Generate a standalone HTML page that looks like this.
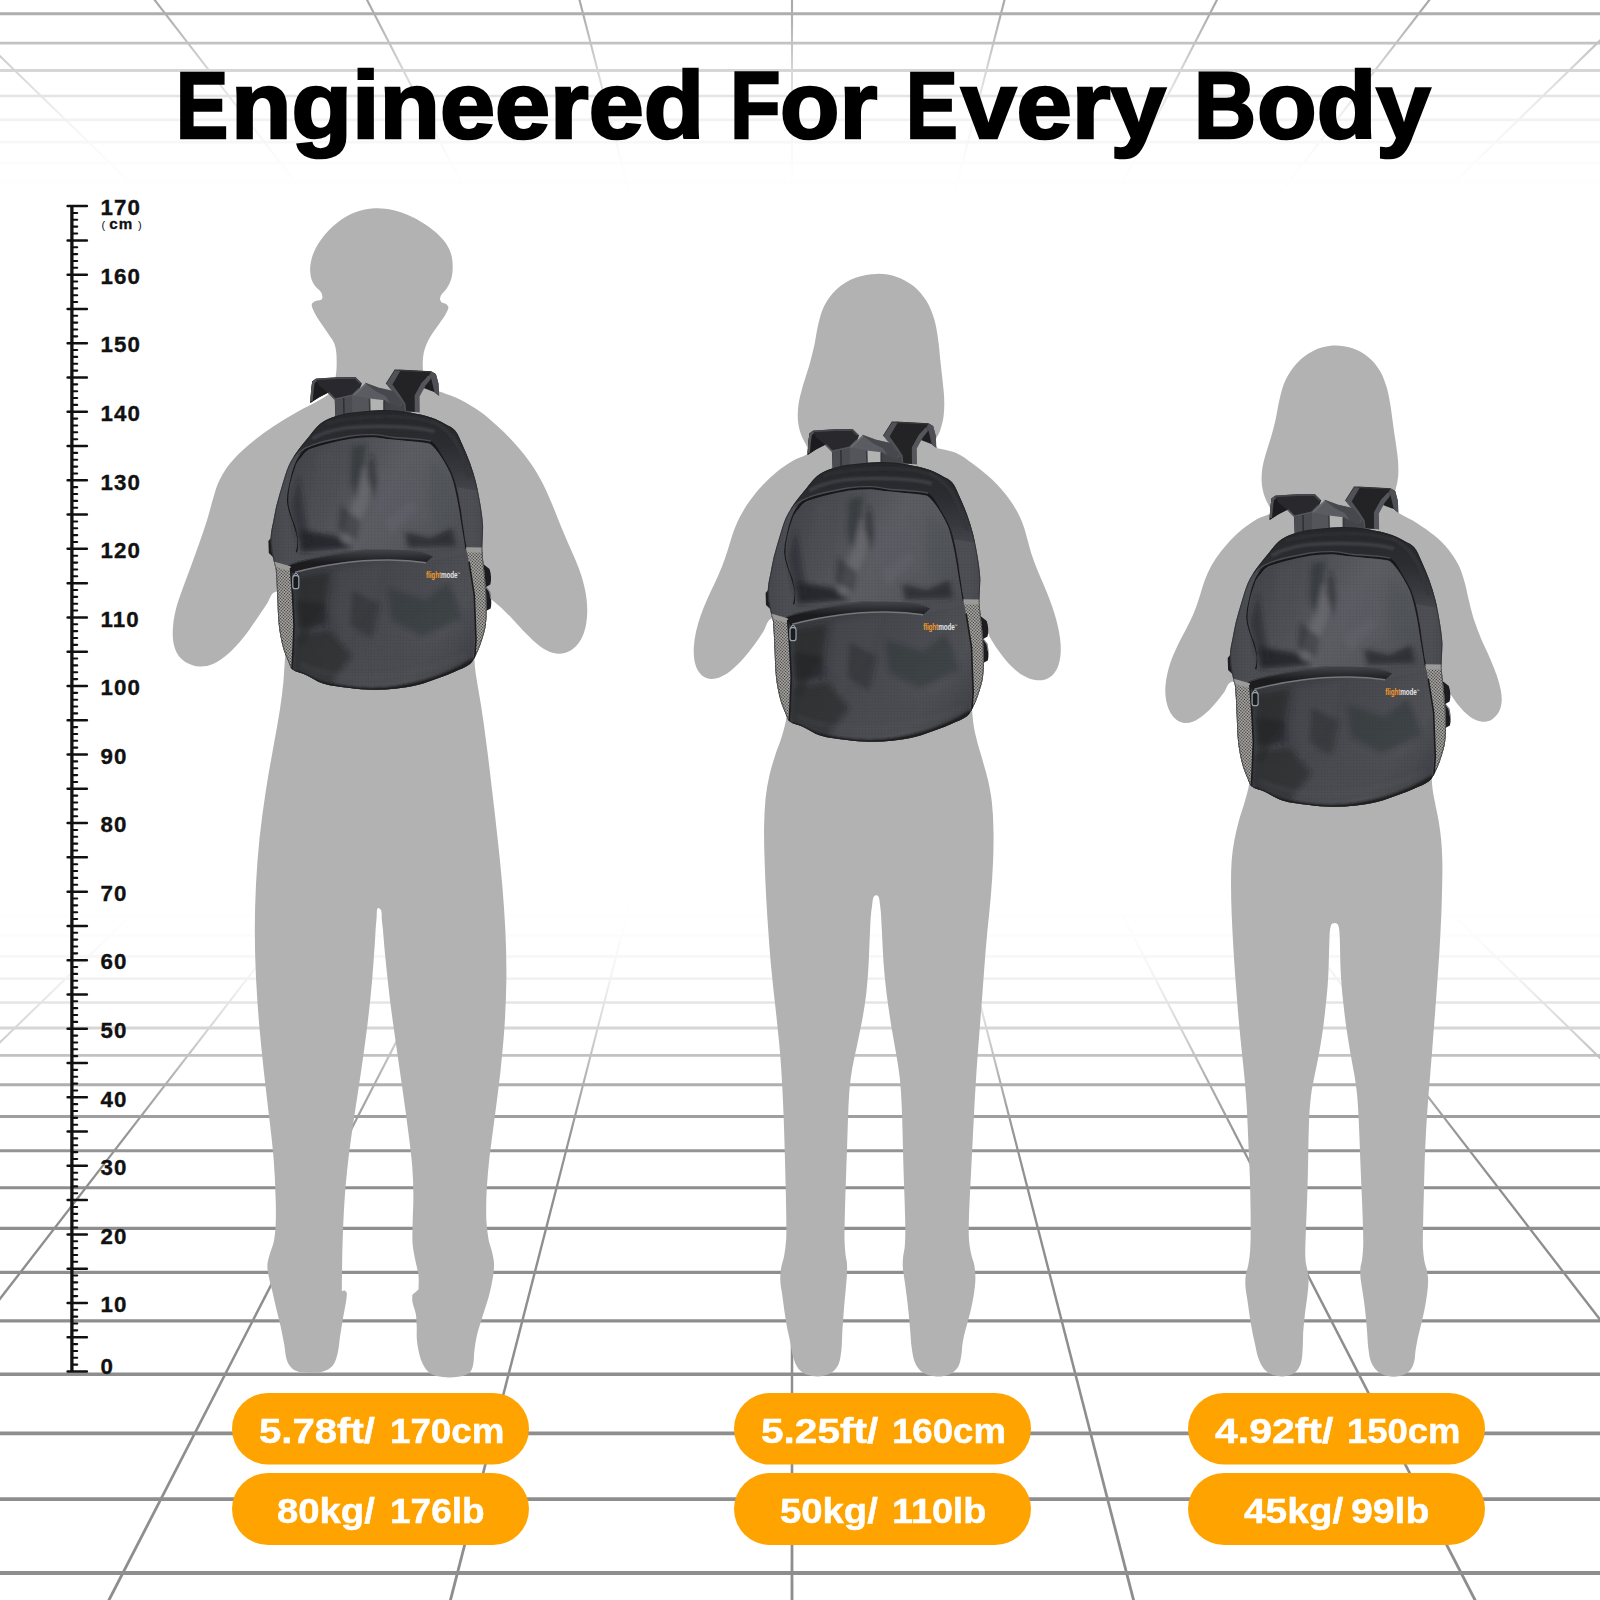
<!DOCTYPE html>
<html lang="en">
<head>
<meta charset="utf-8">
<title>Engineered For Every Body</title>
<style>
html,body{margin:0;padding:0;background:#fff;}
body{width:1600px;height:1600px;position:relative;overflow:hidden;font-family:"Liberation Sans",Arial,sans-serif;}
#art{position:absolute;left:0;top:0;width:1600px;height:1600px;display:block;}
h1,.pt{position:absolute;left:0;top:0;margin:0;padding:0;width:0;height:0;font-family:"Liberation Sans",Arial,sans-serif;font-weight:700;white-space:pre;}
h1 span,.pt span{position:absolute;display:block;line-height:1;transform-origin:0 0;white-space:pre;}
h1{font-size:94.4px;color:#000;-webkit-text-stroke:2.6px #000;}
.pt{font-size:35.6px;color:#fff;-webkit-text-stroke:0.5px #fff;}
</style>
</head>
<body>
<svg id="art" width="1600" height="1600" viewBox="0 0 1600 1600">
<defs>
<linearGradient id="fadeFloor" gradientUnits="userSpaceOnUse" x1="0" y1="900" x2="0" y2="1190">
<stop offset="0" stop-color="#fff" stop-opacity="1"/>
<stop offset="0.12" stop-color="#fff" stop-opacity="0.975"/>
<stop offset="0.27" stop-color="#fff" stop-opacity="0.89"/>
<stop offset="0.44" stop-color="#fff" stop-opacity="0.64"/>
<stop offset="0.62" stop-color="#fff" stop-opacity="0.31"/>
<stop offset="0.80" stop-color="#fff" stop-opacity="0.08"/>
<stop offset="1" stop-color="#fff" stop-opacity="0"/>
</linearGradient>
<g id="floor" stroke="#8e8e8e" fill="none">
<line x1="-10" x2="1610" y1="897.2" y2="897.2" stroke-width="2.51"/>
<line x1="-10" x2="1610" y1="915.8" y2="915.8" stroke-width="2.55"/>
<line x1="-10" x2="1610" y1="935.5" y2="935.5" stroke-width="2.59"/>
<line x1="-10" x2="1610" y1="956.4" y2="956.4" stroke-width="2.64"/>
<line x1="-10" x2="1610" y1="978.7" y2="978.7" stroke-width="2.68"/>
<line x1="-10" x2="1610" y1="1002.5" y2="1002.5" stroke-width="2.73"/>
<line x1="-10" x2="1610" y1="1028" y2="1028" stroke-width="2.79"/>
<line x1="-10" x2="1610" y1="1055.4" y2="1055.4" stroke-width="2.84"/>
<line x1="-10" x2="1610" y1="1084.7" y2="1084.7" stroke-width="2.90"/>
<line x1="-10" x2="1610" y1="1116.4" y2="1116.4" stroke-width="2.97"/>
<line x1="-10" x2="1610" y1="1150.7" y2="1150.7" stroke-width="3.04"/>
<line x1="-10" x2="1610" y1="1187.8" y2="1187.8" stroke-width="3.12"/>
<line x1="-10" x2="1610" y1="1228.3" y2="1228.3" stroke-width="3.21"/>
<line x1="-10" x2="1610" y1="1272.4" y2="1272.4" stroke-width="3.30"/>
<line x1="-10" x2="1610" y1="1320.9" y2="1320.9" stroke-width="3.40"/>
<line x1="-10" x2="1610" y1="1374.3" y2="1374.3" stroke-width="3.51"/>
<line x1="-10" x2="1610" y1="1433.4" y2="1433.4" stroke-width="3.64"/>
<line x1="-10" x2="1610" y1="1499.2" y2="1499.2" stroke-width="3.78"/>
<line x1="-10" x2="1610" y1="1573" y2="1573" stroke-width="3.93"/>
<polygon points="9.4,880 12.5,880 -1041.7,1700 -1046.6,1700" stroke="none" fill="#8e8e8e"/>
<polygon points="165.8,880 168.5,880 -674.8,1700 -679.1,1700" stroke="none" fill="#8e8e8e"/>
<polygon points="322.2,880 324.5,880 -307.8,1700 -311.6,1700" stroke="none" fill="#8e8e8e"/>
<polygon points="478.5,880 480.6,880 59.2,1700 55.8,1700" stroke="none" fill="#8e8e8e"/>
<polygon points="634.8,880 636.7,880 426.3,1700 423.2,1700" stroke="none" fill="#8e8e8e"/>
<polygon points="791.1,880 792.9,880 793.5,1700 790.5,1700" stroke="none" fill="#8e8e8e"/>
<polygon points="947.3,880 949.2,880 1160.8,1700 1157.7,1700" stroke="none" fill="#8e8e8e"/>
<polygon points="1103.4,880 1105.5,880 1528.2,1700 1524.8,1700" stroke="none" fill="#8e8e8e"/>
<polygon points="1259.5,880 1261.8,880 1895.6,1700 1891.8,1700" stroke="none" fill="#8e8e8e"/>
<polygon points="1415.5,880 1418.2,880 2263.1,1700 2258.8,1700" stroke="none" fill="#8e8e8e"/>
<polygon points="1571.5,880 1574.6,880 2630.6,1700 2625.7,1700" stroke="none" fill="#8e8e8e"/>
<rect x="-20" y="860" width="1640" height="340" fill="url(#fadeFloor)" stroke="none"/>
</g>

<filter id="bl2" x="-30%" y="-30%" width="160%" height="160%"><feGaussianBlur stdDeviation="2.8"/></filter>
<filter id="bl4" x="-30%" y="-30%" width="160%" height="160%"><feGaussianBlur stdDeviation="4"/></filter>
<filter id="bl1" x="-20%" y="-20%" width="140%" height="140%"><feGaussianBlur stdDeviation="0.9"/></filter>
<clipPath id="bpClip"><path d="M320.0,424.0C323.5,421.1 327.8,419.3 332.0,417.6C335.9,416.0 339.9,414.8 344.0,414.0C349.9,412.8 356.0,412.2 362.0,411.6C368.0,411.0 374.0,410.4 380.0,410.2C385.3,410.0 390.7,410.2 396.0,410.6C400.7,411.0 405.4,411.7 410.0,412.6C417.6,414.1 425.2,415.6 432.5,418.0C436.9,419.4 441.0,421.8 445.0,424.0C448.5,425.9 452.5,427.4 455.0,430.5C458.5,434.7 460.2,440.1 462.5,445.0C465.2,450.9 467.8,456.9 470.0,463.0C472.3,469.4 474.4,475.9 476.0,482.5C477.9,489.9 479.3,497.5 480.5,505.0C481.6,511.6 482.6,518.3 483.0,525.0C483.3,530.0 482.7,535.0 482.6,540.0C482.5,543.3 482.2,546.7 482.3,550.0C482.5,555.0 483.1,560.0 483.6,565.0C484.1,570.0 484.8,575.0 485.2,580.0C485.8,587.5 486.4,595.0 486.5,602.5C486.6,610.0 486.8,617.6 485.8,625.0C485.0,631.2 482.9,637.1 481.0,643.0C479.7,647.1 478.0,651.2 476.0,655.0C474.3,658.2 472.8,661.8 470.0,664.0C465.6,667.5 460.1,669.2 455.0,671.5C450.1,673.7 445.1,675.7 440.0,677.5C432.6,680.2 425.2,683.1 417.5,685.0C410.1,686.8 402.6,687.9 395.0,688.8C387.5,689.5 380.0,689.9 372.5,689.8C365.0,689.7 357.5,688.9 350.0,688.0C340.9,686.8 331.7,686.1 323.0,683.5C316.6,681.6 311.1,677.3 305.0,674.5C300.9,672.6 296.1,672.2 292.5,669.5C290.2,667.8 289.6,664.6 288.5,662.0C286.5,657.3 284.3,652.5 283.0,647.5C281.1,640.1 279.6,632.6 278.8,625.0C277.7,615.0 277.8,605.0 277.2,595.0C276.8,586.5 276.6,578.0 275.8,569.5C275.6,567.4 274.7,565.5 274.2,563.5C273.2,558.3 271.8,553.2 271.2,548.0C270.7,543.7 270.4,539.3 270.8,535.0C271.2,529.9 272.6,525.0 273.5,520.0C274.5,515.0 275.3,509.9 276.5,505.0C278.3,497.9 280.4,491.0 282.5,484.0C284.4,478.0 285.9,471.8 288.5,466.0C290.9,460.7 294.2,455.8 297.5,451.0C301.2,445.8 305.4,440.9 309.5,436.0C312.9,431.9 315.9,427.4 320.0,424.0Z"/></clipPath>
<linearGradient id="bpBase" x1="0" y1="0" x2="1" y2="0">
<stop offset="0" stop-color="#3e4045"/><stop offset="0.1" stop-color="#4e5055"/>
<stop offset="0.5" stop-color="#484a4f"/><stop offset="0.9" stop-color="#505257"/>
<stop offset="1" stop-color="#3e4045"/>
</linearGradient>
<linearGradient id="zipG" gradientUnits="userSpaceOnUse" x1="0" y1="549" x2="0" y2="572">
<stop offset="0" stop-color="#45474c"/><stop offset="0.35" stop-color="#2c2d31"/><stop offset="0.6" stop-color="#1c1c1f"/><stop offset="1" stop-color="#1c1c1f"/>
</linearGradient>
<linearGradient id="flapG" gradientUnits="userSpaceOnUse" x1="0" y1="410" x2="0" y2="500">
<stop offset="0" stop-color="#26272a"/><stop offset="0.4" stop-color="#2c2d31"/><stop offset="0.7" stop-color="#393a3f"/><stop offset="1" stop-color="#4a4c52"/>
</linearGradient>
<linearGradient id="panelUp" gradientUnits="userSpaceOnUse" x1="295" y1="450" x2="470" y2="550">
<stop offset="0" stop-color="#424449"/><stop offset="0.3" stop-color="#505257"/><stop offset="0.5" stop-color="#5c5e64"/>
<stop offset="0.78" stop-color="#55575c"/><stop offset="1" stop-color="#4a4c51"/>
</linearGradient>
<linearGradient id="panelLow" gradientUnits="userSpaceOnUse" x1="290" y1="560" x2="470" y2="690">
<stop offset="0" stop-color="#36383d"/><stop offset="0.4" stop-color="#46484d"/>
<stop offset="0.75" stop-color="#4f5156"/><stop offset="1" stop-color="#3a3c41"/>
</linearGradient>
<pattern id="mesh" width="2.2" height="2.2" patternUnits="userSpaceOnUse" patternTransform="rotate(40)">
<rect width="2.2" height="2.2" fill="#b3b1ab"/><circle cx="1.1" cy="1.1" r="0.74" fill="#2a2a2e"/>
</pattern>
<pattern id="rip" width="3.2" height="3.2" patternUnits="userSpaceOnUse">
<path d="M0,0H3.2M0,0V3.2" stroke="#1d1d20" stroke-width="0.55" opacity="0.55" fill="none"/>
</pattern>
<g id="bp">
<!-- right lower strap -->
<path d="M482,563 L489.5,569 C491.3,574 491.5,580 490.3,584.5 L486,587 L489.5,592.5 C491.5,598 491.8,604 490.6,608.5 L486,611 L484,600Z" fill="#1d1d20"/>
<path d="M486.3,587.5 L489.8,592 L490.8,599" stroke="#77787d" stroke-width="1.2" fill="none"/>
<!-- left strap bump -->
<path d="M272.5,536 L268.4,541 L268.8,553 L274,558Z" fill="#1e1e21"/>

<!-- LEFT shoulder strap -->
<path d="M310.3,403.1 L311.2,390 L312.2,381.6 L315.9,378.8 L337.5,377.3 L355.3,376.9 L361.9,383.4 L360,388 L352.5,395.6 L352.8,414 L335.4,417.5 L334.7,399.4 L328,392.8 L318.8,397.5Z" fill="#29292d"/>
<path d="M310.3,403.1 L311.2,390 L312.2,381.6 L315.9,378.8 L318.8,385.3 L328,392.8 L318.8,397.5Z" fill="#1c1c1f"/>
<path d="M311.4,401 L312.4,390 L313.4,382.4 L316.3,380" stroke="#515257" stroke-width="2.6" fill="none" stroke-linejoin="round"/>
<path d="M316,379.4 L337.5,378.2 L355,377.8 L360.6,383.4" stroke="#45464b" stroke-width="1.8" fill="none" stroke-linejoin="round"/>
<path d="M334.9,400 L352.5,396 L352.8,414 L335.5,417Z" fill="#4b4c51"/>
<path d="M328.5,392.6 L335,399.2 L352.3,395.4 L359.6,388" stroke="#55565b" stroke-width="1.6" fill="none" stroke-linejoin="round"/>
<path d="M343.7,398 L344,415.5" stroke="#2d2d31" stroke-width="1.4" fill="none"/>

<!-- RIGHT shoulder strap -->
<path d="M426,377 L431.6,378 L435.4,392.6 L421,387Z" fill="#1e1e21"/>
<path d="M385.8,383.4 L394.7,369.4 L403.1,369.8 L431.25,371.25 L435.9,374 L438.3,383.4 L438.75,395.6 L435,392.8 L431.25,378.75 L428.4,376 L421.9,383.4 L415.3,395.6 L415.6,412 L404.2,411.5 L403.1,404 L397.5,395.6 L390,388.1Z" fill="#232326"/>
<path d="M386.4,383.6 L395,370.2 L400.6,370.4 L392.4,384.6 L399.6,394.6 L405.4,403.4 L406.2,411.5 L403.6,411.5 L402.6,404.2 L397,396 L389.7,388.6Z" fill="#515257"/>
<path d="M428.4,375.4 L421.5,383 L414.6,395.4 L414.8,412 L419.8,412.6 L419.6,396.6 L425.6,385.4 L430.8,379Z" fill="#55565b"/>
<path d="M431.4,371.6 L436,374.2 L438.6,383.4 L439.2,396 L434.6,392.6 L431.4,379 L428.8,376Z" fill="#4f5055"/>
<path d="M399,370.4 L431,372" stroke="#38393d" stroke-width="1.2" fill="none"/>

<!-- haul loop (grey webbing) -->
<path d="M353.4,394.7 L365.6,383.2 L378.75,388.1 L393.75,391.4 L402.2,402.2 L398.4,408.75 L391.9,405 L384.4,400.3 L369.4,398.4 L356.25,408.75 L352.5,410.6Z" fill="#5b5c61"/>
<path d="M365.6,383.2 L378.75,388.1 L393.75,391.4 L402.2,402.2 L398.4,408.75 L391.9,405 L386,396 L376,391Z" fill="#47484d" stroke="#47484d" stroke-width="0.8"/>
<path d="M352.5,395.6 L369.4,398.4 L369.4,411 L352.5,412.5Z" fill="#54555a"/>
<path d="M383.9,400.2 L392,404.6 L398.6,408.2 L403.1,403 L404.4,411 L383.9,410.5Z" fill="#434448" stroke="#434448" stroke-width="1"/>
<path d="M354,395 L365.8,384" stroke="#6d6e73" stroke-width="1.4" fill="none"/>
<path d="M369.5,398.6 L369.8,411 M384.3,400.5 L384.3,410" stroke="#38393d" stroke-width="1.6" fill="none"/>

<!-- body -->
<path d="M320.0,424.0C323.5,421.1 327.8,419.3 332.0,417.6C335.9,416.0 339.9,414.8 344.0,414.0C349.9,412.8 356.0,412.2 362.0,411.6C368.0,411.0 374.0,410.4 380.0,410.2C385.3,410.0 390.7,410.2 396.0,410.6C400.7,411.0 405.4,411.7 410.0,412.6C417.6,414.1 425.2,415.6 432.5,418.0C436.9,419.4 441.0,421.8 445.0,424.0C448.5,425.9 452.5,427.4 455.0,430.5C458.5,434.7 460.2,440.1 462.5,445.0C465.2,450.9 467.8,456.9 470.0,463.0C472.3,469.4 474.4,475.9 476.0,482.5C477.9,489.9 479.3,497.5 480.5,505.0C481.6,511.6 482.6,518.3 483.0,525.0C483.3,530.0 482.7,535.0 482.6,540.0C482.5,543.3 482.2,546.7 482.3,550.0C482.5,555.0 483.1,560.0 483.6,565.0C484.1,570.0 484.8,575.0 485.2,580.0C485.8,587.5 486.4,595.0 486.5,602.5C486.6,610.0 486.8,617.6 485.8,625.0C485.0,631.2 482.9,637.1 481.0,643.0C479.7,647.1 478.0,651.2 476.0,655.0C474.3,658.2 472.8,661.8 470.0,664.0C465.6,667.5 460.1,669.2 455.0,671.5C450.1,673.7 445.1,675.7 440.0,677.5C432.6,680.2 425.2,683.1 417.5,685.0C410.1,686.8 402.6,687.9 395.0,688.8C387.5,689.5 380.0,689.9 372.5,689.8C365.0,689.7 357.5,688.9 350.0,688.0C340.9,686.8 331.7,686.1 323.0,683.5C316.6,681.6 311.1,677.3 305.0,674.5C300.9,672.6 296.1,672.2 292.5,669.5C290.2,667.8 289.6,664.6 288.5,662.0C286.5,657.3 284.3,652.5 283.0,647.5C281.1,640.1 279.6,632.6 278.8,625.0C277.7,615.0 277.8,605.0 277.2,595.0C276.8,586.5 276.6,578.0 275.8,569.5C275.6,567.4 274.7,565.5 274.2,563.5C273.2,558.3 271.8,553.2 271.2,548.0C270.7,543.7 270.4,539.3 270.8,535.0C271.2,529.9 272.6,525.0 273.5,520.0C274.5,515.0 275.3,509.9 276.5,505.0C278.3,497.9 280.4,491.0 282.5,484.0C284.4,478.0 285.9,471.8 288.5,466.0C290.9,460.7 294.2,455.8 297.5,451.0C301.2,445.8 305.4,440.9 309.5,436.0C312.9,431.9 315.9,427.4 320.0,424.0Z" fill="#4a4c51"/>
<g clip-path="url(#bpClip)">
  <!-- soft overall light -->
  <rect x="265" y="400" width="230" height="300" fill="url(#bpBase)" opacity="0.55"/>
  <!-- top flap (darker) -->
  <path d="M292,458 C294,456.5 296.5,455.5 299.5,453.9 C304,450 308,448 312.4,446.7 C317,445 322,443.5 326.8,442.4 C335,440.5 343,438.7 351.2,437.3 C359,436.2 367,435.7 374.2,435.9 C381,436.3 388,438 394.4,438.8 C401,439.4 409,439.7 415.9,440.2 C421,440.7 426,441.3 430.3,442.4 C433,444 434.5,446 436,448.1 C438,451 440,455 441.9,458 C445,463 448,468.5 450.6,473.7 C452.5,478 454,482.5 455,486.9 L486,492 L470,440 L436,408 L360,402 L312,418 L284,456Z" fill="url(#flapG)"/>
  <g filter="url(#bl1)">
    <path d="M312.4,438.5 C322,433 333,430 346,428 C360,426.4 380,426 400,426.8 C412,427.4 424,428.5 434.5,431.6" stroke="#414247" stroke-width="3.2" fill="none"/>
    <path d="M326,423.5 C345,418.5 370,416 395,416.6 C410,417 424,419 436,423.5" stroke="#303135" stroke-width="2.6" fill="none"/>
    <path d="M432,421 C442,426 452,434 458,446 C462,455 466,466 470,478" stroke="#34353a" stroke-width="3" fill="none"/>
  </g>
  <!-- main compartment piping -->
  <path d="M297,552.5 C298.5,548 299,543.5 298.7,539.4 C298,534.5 296.8,530.5 295.2,526.2 C293.8,521.5 292.3,517.5 290.9,513.1 C289.3,508.5 288.4,504.5 288.2,500 C288.4,494 289.5,488 290.9,482.5 C292,476.5 293.5,471.5 295.2,466.7 C296.6,462.5 298.4,459 300.5,456.2 C304,450 308,448 312.4,446.7 C317,445 322,443.5 326.8,442.4 C335,440.5 343,438.7 351.2,437.3 C359,436.2 367,435.7 374.2,435.9 C381,436.3 388,438 394.4,438.8 C401,439.4 409,439.7 415.9,440.2 C421,440.7 426,441.3 430.3,442.4 C433,444 434.5,446 436,448.1 C438,451 440,455 441.9,458 C445,463 448,468.5 450.6,473.7 C452.5,478 454,482.5 455,486.9 C456.5,493 457.6,498.5 458.5,504.4 C459.6,510 460.4,516 461.1,521.9 C462,528 462.9,533.5 463.7,539.4 C464.4,543 465,546 465.5,549" stroke="#17171a" stroke-width="2.6" fill="none"/>
  <path d="M291,464.6 C293,459.5 295.5,456 298.5,452.7 C303,448.8 307,446.8 311.6,445.3 C316,443.6 321,442.2 326,441 C334,439.2 342.5,437.4 350.6,436 C358.5,435 366.5,434.5 374,434.6 C381,435 388,436.7 394.4,437.5 C401,438.1 409,438.4 416,439 C421,439.4 426,440 430.8,441.1" stroke="#4d4e53" stroke-width="1.3" fill="none"/>
  <!-- front panel tone -->
  <path d="M295.2,466.7 C297,461 300.5,456.2 312.4,448.5 C335,442 360,437.5 374.2,437.6 C390,439.5 410,441 430,444 C438,450 445,462 450.6,473.7 C455,486 458.5,504 461.1,521.9 L465.5,549 L430,551 L365,549 L320,554 L297,553 C299,545 298,536 295.2,526.2 C291,515 288,507 288.2,500 C288.5,488 291.5,477 295.2,466.7Z" fill="url(#panelUp)"/>
  <!-- soft folds, upper -->
  <g filter="url(#bl2)">
    <path d="M362,468 L374,470 L368,505 L352,540 L340,546 L352,505Z" fill="#74757c" opacity="0.55"/>
    <path d="M384,520 L412,500 L418,508 L392,534Z" fill="#6c6d74" opacity="0.45"/>
    <path d="M291,505 L299,476 L305,514 L311,545 L297,540Z" fill="#232427" opacity="0.5"/>
    <path d="M318,452 L336,447 L332,490 L322,530 L314,500Z" fill="#4f5055" opacity="0.55"/>
    <path d="M352,447 L366,444 L362,474 L356,500 L350,480Z" fill="#2c2d31" opacity="0.55"/>
    <path d="M366,474 L372,452 L378,480 L374,500Z" fill="#1f2023" opacity="0.5"/>
    <path d="M378,470 L420,476 L428,520 L392,528 L374,506Z" fill="#5d5e65" opacity="0.5"/>
    <path d="M430,462 L452,480 L458,520 L440,530 L430,500Z" fill="#505156" opacity="0.5"/>
    <path d="M300,530 L336,536 L352,548 L300,552Z" fill="#1d1e21" opacity="0.75"/>
    <path d="M405,532 L430,538 L452,528 L456,546 L408,548Z" fill="#222326" opacity="0.7"/>
    <path d="M340,505 L360,520 L356,540 L338,530Z" fill="#2a2b2f" opacity="0.5"/>
  </g>
  <!-- lower pocket -->
  <path d="M288,566 L299,571 C312,567.5 327,564.8 342.5,563 C357,561 372,560.3 387.5,560.2 C400,560 413,560.8 425,562.6 L470,552 L478,600 L472,668 L372,694 L288,672Z" fill="url(#panelLow)"/>
  <g filter="url(#bl2)">
    <path d="M296,578 L330,572 L324,612 L300,644Z" fill="#232427" opacity="0.6"/>
    <path d="M338,570 L384,565 L372,600 L346,640 L334,612Z" fill="#4c4d52" opacity="0.55"/>
    <path d="M352,590 L380,604 L372,640 L350,625Z" fill="#26272a" opacity="0.4"/>
    <path d="M388,588 L426,600 L450,580 L462,618 L422,636 L392,620Z" fill="#2b2c30" opacity="0.4"/>
    <path d="M294,636 L330,630 L352,656 L330,684 L292,670Z" fill="#222326" opacity="0.5"/>
    <path d="M366,636 L420,646 L456,636 L452,668 L380,684Z" fill="#4a4b50" opacity="0.5"/>
    <path d="M436,566 L466,560 L470,600 L452,592Z" fill="#4f5055" opacity="0.45"/>
    <path d="M296,600 L326,604 L328,626 L298,628Z" fill="#1b1c1f" opacity="0.45"/>
  </g>
  <path d="M296,672 C320,686 350,689.5 372.5,690 C410,689 445,678 474,660" stroke="#1c1c1f" stroke-width="4" fill="none" filter="url(#bl1)"/>
  <path d="M300,664 C330,680 400,684 466,655" stroke="#56575c" stroke-width="2.5" fill="none" filter="url(#bl2)" opacity="0.6"/>
  <!-- ripstop texture -->
  <path d="M320.0,424.0C323.5,421.1 327.8,419.3 332.0,417.6C335.9,416.0 339.9,414.8 344.0,414.0C349.9,412.8 356.0,412.2 362.0,411.6C368.0,411.0 374.0,410.4 380.0,410.2C385.3,410.0 390.7,410.2 396.0,410.6C400.7,411.0 405.4,411.7 410.0,412.6C417.6,414.1 425.2,415.6 432.5,418.0C436.9,419.4 441.0,421.8 445.0,424.0C448.5,425.9 452.5,427.4 455.0,430.5C458.5,434.7 460.2,440.1 462.5,445.0C465.2,450.9 467.8,456.9 470.0,463.0C472.3,469.4 474.4,475.9 476.0,482.5C477.9,489.9 479.3,497.5 480.5,505.0C481.6,511.6 482.6,518.3 483.0,525.0C483.3,530.0 482.7,535.0 482.6,540.0C482.5,543.3 482.2,546.7 482.3,550.0C482.5,555.0 483.1,560.0 483.6,565.0C484.1,570.0 484.8,575.0 485.2,580.0C485.8,587.5 486.4,595.0 486.5,602.5C486.6,610.0 486.8,617.6 485.8,625.0C485.0,631.2 482.9,637.1 481.0,643.0C479.7,647.1 478.0,651.2 476.0,655.0C474.3,658.2 472.8,661.8 470.0,664.0C465.6,667.5 460.1,669.2 455.0,671.5C450.1,673.7 445.1,675.7 440.0,677.5C432.6,680.2 425.2,683.1 417.5,685.0C410.1,686.8 402.6,687.9 395.0,688.8C387.5,689.5 380.0,689.9 372.5,689.8C365.0,689.7 357.5,688.9 350.0,688.0C340.9,686.8 331.7,686.1 323.0,683.5C316.6,681.6 311.1,677.3 305.0,674.5C300.9,672.6 296.1,672.2 292.5,669.5C290.2,667.8 289.6,664.6 288.5,662.0C286.5,657.3 284.3,652.5 283.0,647.5C281.1,640.1 279.6,632.6 278.8,625.0C277.7,615.0 277.8,605.0 277.2,595.0C276.8,586.5 276.6,578.0 275.8,569.5C275.6,567.4 274.7,565.5 274.2,563.5C273.2,558.3 271.8,553.2 271.2,548.0C270.7,543.7 270.4,539.3 270.8,535.0C271.2,529.9 272.6,525.0 273.5,520.0C274.5,515.0 275.3,509.9 276.5,505.0C278.3,497.9 280.4,491.0 282.5,484.0C284.4,478.0 285.9,471.8 288.5,466.0C290.9,460.7 294.2,455.8 297.5,451.0C301.2,445.8 305.4,440.9 309.5,436.0C312.9,431.9 315.9,427.4 320.0,424.0Z" fill="url(#rip)" opacity="0.35"/>
  <!-- zipper flap -->
  <path d="M288,565.5 C294,562.5 299,561 305,559.75 C315,557.5 325,555.8 335,554.5 C345,553 355,551.6 365,550.75 C372,550.2 380,550 387.5,550 C395,550 403,550.3 410,550.75 C416,551.3 421,552 425,553 L433,556.5 L425.5,563 C413,561 400,560.2 387.5,560.2 C372,560.3 357,561.2 342.5,563.2 C327,565 312,568 299,571.2 L293,573.5Z" fill="url(#zipG)"/>
  <path d="M295,572.3 C312,567.8 327,564.9 342.5,563 C357,561 372,560.2 387.5,560.1 C400,560 413,560.8 426,562.8" stroke="#76777c" stroke-width="1.5" fill="none"/>
  <path d="M289,565 C299,561.5 315,557.6 335,554.6 C352,552 370,550.4 387.5,550.2 C402,550 416,551.4 430,555" stroke="#3f4044" stroke-width="1" fill="none"/>
  <!-- mesh pockets -->
  <path d="M272,562 L290.5,567.5 L292.5,595 L294,625 L293,650 L292,670 L270,676 L268,600Z" fill="url(#mesh)"/>
  <path d="M466.5,549 L486,549 L490,595 L490,625 L486,650 L474,662 L476,640 L474.3,595 L469.3,565Z" fill="url(#mesh)"/>
  <path d="M272,561 L290.5,566.2 L290.8,571 L273,566.4Z" fill="#9a9a98"/>
  <path d="M466,547.2 L486,547.5 L486.5,552.4 L467,552.6Z" fill="#9a9a98"/>
  <path d="M290.5,568 L292.5,595 L294,625 L293,650 L292,669" stroke="#1c1c1f" stroke-width="1.6" fill="none"/>
  <path d="M469,562 L474.3,595 L476,640 L474.5,661" stroke="#1c1c1f" stroke-width="1.6" fill="none"/>
  <!-- edge shading -->
  <path d="M320.0,424.0C323.5,421.1 327.8,419.3 332.0,417.6C335.9,416.0 339.9,414.8 344.0,414.0C349.9,412.8 356.0,412.2 362.0,411.6C368.0,411.0 374.0,410.4 380.0,410.2C385.3,410.0 390.7,410.2 396.0,410.6C400.7,411.0 405.4,411.7 410.0,412.6C417.6,414.1 425.2,415.6 432.5,418.0C436.9,419.4 441.0,421.8 445.0,424.0C448.5,425.9 452.5,427.4 455.0,430.5C458.5,434.7 460.2,440.1 462.5,445.0C465.2,450.9 467.8,456.9 470.0,463.0C472.3,469.4 474.4,475.9 476.0,482.5C477.9,489.9 479.3,497.5 480.5,505.0C481.6,511.6 482.6,518.3 483.0,525.0C483.3,530.0 482.7,535.0 482.6,540.0C482.5,543.3 482.2,546.7 482.3,550.0C482.5,555.0 483.1,560.0 483.6,565.0C484.1,570.0 484.8,575.0 485.2,580.0C485.8,587.5 486.4,595.0 486.5,602.5C486.6,610.0 486.8,617.6 485.8,625.0C485.0,631.2 482.9,637.1 481.0,643.0C479.7,647.1 478.0,651.2 476.0,655.0C474.3,658.2 472.8,661.8 470.0,664.0C465.6,667.5 460.1,669.2 455.0,671.5C450.1,673.7 445.1,675.7 440.0,677.5C432.6,680.2 425.2,683.1 417.5,685.0C410.1,686.8 402.6,687.9 395.0,688.8C387.5,689.5 380.0,689.9 372.5,689.8C365.0,689.7 357.5,688.9 350.0,688.0C340.9,686.8 331.7,686.1 323.0,683.5C316.6,681.6 311.1,677.3 305.0,674.5C300.9,672.6 296.1,672.2 292.5,669.5C290.2,667.8 289.6,664.6 288.5,662.0C286.5,657.3 284.3,652.5 283.0,647.5C281.1,640.1 279.6,632.6 278.8,625.0C277.7,615.0 277.8,605.0 277.2,595.0C276.8,586.5 276.6,578.0 275.8,569.5C275.6,567.4 274.7,565.5 274.2,563.5C273.2,558.3 271.8,553.2 271.2,548.0C270.7,543.7 270.4,539.3 270.8,535.0C271.2,529.9 272.6,525.0 273.5,520.0C274.5,515.0 275.3,509.9 276.5,505.0C278.3,497.9 280.4,491.0 282.5,484.0C284.4,478.0 285.9,471.8 288.5,466.0C290.9,460.7 294.2,455.8 297.5,451.0C301.2,445.8 305.4,440.9 309.5,436.0C312.9,431.9 315.9,427.4 320.0,424.0Z" fill="none" stroke="#1a1a1d" stroke-width="2" opacity="0.45"/>
</g>
<!-- zipper pull -->
<rect x="292.8" y="575.6" width="6" height="13" rx="2.2" ry="2.2" fill="#1b1b1e" stroke="#97a3ae" stroke-width="1.2"/>
<path d="M293.4,576 L294.8,573.6 L297,573.6 L298.2,576" stroke="#97a3ae" stroke-width="1" fill="none"/>
</g>

</defs>
<rect width="1600" height="1600" fill="#fff"/>
<use href="#floor"/>
<use href="#floor" transform="matrix(1 0 0 -1 0 1098.5)"/>
<g id="people" fill="#b2b2b2">
<path d="M374.4,208.3C380.5,207.9 386.8,208.7 392.8,210C399.2,211.4 405.4,213.8 411.2,216.6C417.6,219.6 423.7,223.2 429.4,227.3C434.5,231.1 439.5,235.4 443.6,240.3C446.8,244.2 449.3,248.7 450.9,253.4C452.4,257.7 452.6,262.4 452.7,266.9C452.7,271 452.3,275.1 451.2,279.1C450.3,282.3 448.8,285.3 447,288.1C445.5,290.7 442.9,292.5 441.2,295C440.5,296.1 440,298.8 440,298.8C440,298.8 440.4,301.2 441.2,301.9C442.7,303.1 444.9,303 446.4,304.2C447.4,305 448.6,306.3 448.4,307.6C448.1,310.2 446.5,312.6 445.2,314.9C442.6,319.2 439.4,323.2 436.6,327.5C433.6,331.9 430.3,336.2 428,340.9C426,344.8 424.6,348.9 423.7,353.1C422.8,357.6 422.6,362.2 422.8,366.8C422.9,371.1 423.1,375.5 424.6,379.5C425.8,382.6 428,385.5 430.8,387.5C434.2,390 438.5,391 442.5,392.6C448.3,395 454.4,396.7 460,399.5C466.9,403 473.7,407 480,411.5C486.9,416.5 493.3,422.2 499.5,428C505.6,433.7 511.5,439.7 517,446C522.2,451.9 527.1,458 531.5,464.5C535.8,470.7 539.5,477.3 543,484C546.4,490.5 549.1,497.3 552,504C554.8,510.6 557.3,517.4 560,524C562.6,530.4 565.3,536.7 568,543C570.4,548.7 573.2,554.3 575.5,560C577.7,565.3 579.8,570.6 581.5,576C583.1,581.2 584.5,586.6 585.5,592C586.4,597.3 587.1,602.6 587.2,608C587.4,613.2 587.1,618.4 586.2,623.5C585.5,628.1 584.2,632.7 582.2,637C580.5,640.7 578.2,644.2 575.2,647C572.5,649.6 569.1,651.7 565.5,652.8C561.6,653.8 557.4,654 553.5,653C548.6,651.8 544.1,649.2 540,646.2C534.9,642.6 530.5,637.9 526,633.5C521.3,628.9 517.1,623.8 512.5,619C508.7,615.1 505,611.2 501,607.5C498.1,604.8 495,602.5 492,600C488.7,597.3 482,592 482,592C482,592 477.4,610.6 476,620C474.9,627.4 474.8,635 474.5,642.5C474.3,648.7 474.1,655 474.5,661.2C474.8,667.3 475.7,673.3 476.6,679.2C477.9,687.7 479.6,696 480.9,704.5C482.9,717.5 484.7,730.7 486.4,743.8C488.5,759.4 490.3,775 492.1,790.6C494,806.2 495.8,821.9 497.5,837.5C499.2,853.1 500.9,868.7 502.2,884.3C503.5,899.9 504.7,915.5 505.4,931.1C506.1,946.7 506.5,962.4 506.4,978C506.2,993.7 505.6,1009.4 504.6,1025C503.6,1040.7 502,1056.4 500.4,1072C498.7,1087.2 496.7,1102.3 494.7,1117.5C493.1,1130.4 491.1,1143.3 489.6,1156.2C488.4,1167.3 487.3,1178.5 486.7,1189.6C486.2,1199.6 486,1209.5 486.3,1219.5C486.6,1226.1 487.4,1232.7 488.5,1239.2C489.3,1243.5 491,1247.6 492,1251.8C492.9,1255.7 493.8,1259.6 494,1263.6C494.1,1268.3 493.6,1273 492.9,1277.6C491.9,1284 490.4,1290.3 488.8,1296.5C486.9,1303.3 484.6,1309.9 482.5,1316.6C480.7,1322.7 478.5,1328.8 477,1335C475.7,1340.5 475,1346.1 474.3,1351.6C473.7,1356 474.2,1360.6 473.1,1364.9C472.4,1367.8 471.5,1371.1 469.1,1373C466.1,1375.4 462,1376.2 458.2,1376.8C453.2,1377.5 448,1377.7 442.9,1377.1C438.6,1376.6 434.1,1375.9 430.5,1373.6C427.3,1371.7 425.1,1368.4 423.3,1365.1C421.2,1361.2 420,1356.8 418.9,1352.5C417.8,1348 417.2,1343.5 416.8,1338.9C416.5,1334.6 416.9,1330.4 416.7,1326.1C416.5,1322.1 416.5,1318 415.8,1314C415,1309.8 413.1,1305.9 412.4,1301.8C412,1299.5 412.4,1294.8 412.4,1294.8C412.4,1294.8 418.5,1289.5 418.5,1289.5C418.5,1289.5 419,1280.1 418.5,1275.5C417.9,1269.9 416,1264.4 415,1258.9C414.1,1253.9 413,1249 412.6,1244C412.1,1237.6 412.5,1231.2 412.6,1224.8C412.7,1215.2 413.4,1205.8 413.4,1196.2C413.3,1186 413,1175.8 412.2,1165.7C411.3,1154.6 409.8,1143.7 408.4,1132.7C406.6,1118.7 404.7,1104.7 402.7,1090.8C400.5,1075.1 398.2,1059.5 396,1043.9C393.8,1028.3 391.5,1012.7 389.6,997C387.8,982.4 386.4,967.7 384.9,953C383.9,942.1 383.3,931.2 381.9,920.4C381.3,916.3 382.9,909.9 379.1,908.2C376,906.9 377.1,914.7 376.6,918C375.6,926.5 375.4,935.1 374.8,943.6C373.9,955.9 373.2,968.2 372.1,980.4C370.8,995.3 369.2,1010.2 367.4,1025C365.5,1040.7 363.3,1056.3 361,1072C358.8,1087.2 356.3,1102.3 354.1,1117.5C352.2,1130.4 350.3,1143.3 348.7,1156.2C347.5,1166.2 346.5,1176.2 345.6,1186.1C344.8,1195.6 344.2,1205.1 343.7,1214.6C343.2,1224.9 342.8,1235.1 342.5,1245.3C342.2,1254.8 342.1,1264.3 342,1273.8C341.9,1279.5 341.9,1291 341.9,1291C341.9,1291 344.5,1290.2 344.5,1290.2C344.5,1290.2 346.7,1291.8 346.8,1293C347.1,1296.2 346.3,1299.4 345.9,1302.6C345.1,1307.6 344,1312.5 343.1,1317.5C342.1,1323.6 341.1,1329.7 340.1,1335.9C339.2,1341.7 339,1347.7 337.6,1353.4C336.5,1357.6 335.5,1362 332.8,1365.4C330.4,1368.3 326.7,1370.3 323.1,1371.4C318.7,1372.8 313.8,1373 309.1,1372.8C304.4,1372.7 299.4,1372.8 295.2,1370.6C291.7,1368.7 288.9,1365.2 287.3,1361.5C285.1,1356.2 285.3,1350.2 284.2,1344.6C283.1,1338.6 282,1332.6 280.7,1326.7C279.4,1320.7 277.7,1314.8 276.3,1308.8C274.9,1302.8 273.6,1296.8 272.2,1290.8C271,1286 269.6,1281.2 268.7,1276.4C268,1272.6 267.2,1268.8 267.4,1265C267.6,1261.3 268.8,1257.6 269.8,1254C270.9,1250 272.9,1246.2 273.7,1242.1C274.9,1236.2 275.4,1230.2 275.7,1224.2C276.1,1214.5 275.9,1204.7 275.5,1195C275.2,1182.8 274.6,1170.6 273.6,1158.5C272.5,1144.8 270.8,1131.2 269.2,1117.5C267.5,1102.3 265.5,1087.2 263.9,1072C262.2,1056.3 260.6,1040.7 259.2,1025C257.9,1009.4 256.8,993.7 256,978C255.3,962.3 254.8,946.7 254.8,931C254.8,915.4 255.2,899.7 256,884.1C256.8,868.6 258,853 259.6,837.5C261.3,821.9 263.4,806.4 265.8,790.9C268,775.9 270.9,761.1 273.5,746.2C275.7,733.8 278.1,721.5 280,709C281.4,700 282.5,691 283.4,682C284.1,675 284.2,668 284.8,661C285.3,653.7 285.8,646.5 286.6,639.2C287.6,631.1 289.7,623.2 290,615C290.2,608.6 288,596 288,596C288,596 279.2,590.4 275,592C270.5,593.7 269.5,600 266.8,604C263.1,609.3 259.7,614.7 256,620C251.8,626.1 247.7,632.3 243,638C238.4,643.6 233.5,649.2 228,654C223.5,657.9 218.5,661.6 213,664C208.8,665.8 204.1,666.7 199.5,666.5C195.3,666.3 191,665 187.2,663C183.7,661.1 180.4,658.4 178.1,655C175.6,651.3 174.2,646.9 173.4,642.5C172.5,636.9 172.6,631.1 173.1,625.5C173.6,619.3 174.9,613.1 176.5,607C178.1,600.9 180.4,595 182.5,589C185.1,581.8 187.9,574.7 190.5,567.5C193.5,559.2 196.6,550.9 199.5,542.5C202.1,535 204.8,527.6 207.1,520C209.2,513.4 210.7,506.6 212.7,500C214.7,493.6 216.2,487 219.1,481C222,474.8 225.7,468.8 230,463.5C235.4,456.9 241.6,451 248,445.5C255.8,438.8 264,432.8 272.5,427C280.7,421.4 289.4,416.5 298,411.5C304.5,407.8 311.3,404.8 317.8,401C321.9,398.5 326.8,396.6 329.7,392.8C332.9,388.6 334.4,383.3 335.4,378.1C336.7,371.5 336.8,364.7 336.6,357.9C336.5,353.3 336,348.5 334.5,344.1C333.4,340.6 330.9,337.7 328.9,334.7C326.2,330.5 323.1,326.7 320.5,322.5C318.1,318.7 315.6,315 313.7,310.9C312.7,308.9 311.5,306.6 311.8,304.3C311.9,303 313.4,302 314.6,301.4C316.7,300.4 319.2,300.8 321.2,299.8C322,299.4 322.5,297.5 322.5,297.5C322.5,297.5 322.2,293.9 321.2,292.5C319.5,289.9 316.4,288.3 314.7,285.6C312.9,282.9 311.5,279.8 310.8,276.6C310.1,272.8 309.9,268.8 310.4,265C311,260.5 312.1,256 314,251.9C316.3,246.7 319.3,241.7 322.8,237.2C327.1,231.9 331.8,226.8 337.2,222.7C342.7,218.4 348.8,214.8 355.3,212.3C361.4,210 367.9,208.7 374.4,208.3Z"/>
<path d="M876.9,273.9C883.6,273.7 890.5,274.7 896.9,276.9C903,278.9 908.7,282.2 913.8,286.2C918.7,290.2 922.9,295.2 926.2,300.6C929.7,306.2 932.1,312.5 934.1,318.8C936.1,325.4 937.1,332.4 938.1,339.4C939.2,346.2 939.6,353.1 940.3,360C941,366.7 941.8,373.3 942.5,380C943.1,386.5 944.1,392.9 944.2,399.4C944.4,405.2 944.3,411.1 943.5,416.9C942.8,421.8 941.4,426.6 939.9,431.2C938.6,435.1 935.4,438.4 935,442.5C934.8,444.7 938,448.5 938,448.5C938,448.5 950.5,450.5 956.2,453C962.2,455.6 967.3,459.8 972.5,463.6C977.8,467.4 983,471.4 987.9,475.8C992.5,479.8 996.9,484.2 1000.9,488.8C1004.6,492.9 1008,497.2 1011.1,501.8C1013.9,505.9 1016.5,510.2 1018.8,514.8C1020.9,518.9 1022.6,523.3 1024.1,527.8C1025.6,532 1026.5,536.4 1027.8,540.8C1029,545.1 1030,549.5 1031.4,553.8C1032.8,558.1 1034.4,562.5 1036.1,566.8C1037.8,571.1 1039.7,575.4 1041.5,579.8C1043.4,584.1 1045.3,588.4 1047,592.8C1048.7,597 1050.4,601.4 1051.9,605.8C1053.4,610 1054.8,614.4 1056,618.8C1057.1,623 1058.2,627.4 1059,631.8C1059.8,635.9 1060.4,640.1 1060.6,644.3C1060.8,648.2 1060.9,652.2 1060.4,656.1C1060,659.7 1059.3,663.3 1058,666.6C1056.8,669.6 1055.2,672.5 1052.9,674.8C1050.8,676.9 1048.1,678.6 1045.2,679.5C1042.1,680.4 1038.7,680.6 1035.5,680.1C1031.6,679.5 1027.9,678 1024.5,676.2C1020.5,674.1 1016.9,671.3 1013.5,668.2C1009.9,665.1 1006.8,661.4 1003.8,657.7C1001,654.4 998.5,650.8 996.1,647.2C994.2,644.4 992.5,641.6 990.8,638.7C989.4,636.4 988.6,633.8 987,631.8C984.3,628.2 978,622 978,622C978,622 973.1,647.2 972,660C971,671.8 971.4,683.8 971.6,695.6C971.8,704.2 972.1,712.8 973.1,721.2C973.8,727.8 975.3,734.2 976.9,740.6C978.5,747.2 980.7,753.5 982.5,760C984.4,766.9 986.6,773.7 988.1,780.6C989.7,787.8 991.1,795.1 991.9,802.5C992.8,811 993.3,819.6 993.4,828.1C993.7,839.2 993.5,850.2 993.1,861.2C992.6,873.4 991.7,885.6 990.7,897.8C989.8,908.9 988.4,920 987.4,931.1C986.4,941.6 985.5,952 984.7,962.4C983.9,972.9 983.2,983.3 982.4,993.8C981.6,1004.1 980.8,1014.5 980,1024.9C979.2,1035.3 978.3,1045.7 977.6,1056.1C976.8,1066.6 976.1,1077 975.5,1087.4C974.8,1097.9 974.3,1108.3 973.8,1118.8C973.2,1129.1 972.7,1139.5 972.2,1149.9C971.7,1160.3 971.1,1170.7 970.6,1181.1C970.1,1191.6 969.5,1202 969.1,1212.4C968.9,1221 968.5,1229.7 968.9,1238.2C969.2,1243.5 970.1,1248.7 971.1,1253.8C971.9,1257.8 973.7,1261.6 974.4,1265.5C975.1,1270.2 975.5,1274.9 975.4,1279.7C975.2,1285.2 974.4,1290.7 973.6,1296.1C972.7,1301.6 971.5,1307.1 970.2,1312.5C969,1317.7 967.3,1322.8 966,1328.1C964.7,1333 963.4,1337.9 962.6,1342.9C961.9,1347.3 962,1351.8 961.2,1356.1C960.5,1359.9 960,1364 957.9,1367.3C955.8,1370.4 952.6,1373 949.1,1374.5C945.1,1376.2 940.6,1376.7 936.2,1376.5C931.9,1376.3 927.4,1375.3 923.8,1373.1C920.3,1371 917.4,1367.6 915.6,1363.9C913.3,1359.4 912.7,1354.2 911.9,1349.2C910.8,1342.7 910.7,1336 910.1,1329.5C909.4,1321.7 908.8,1313.8 907.9,1306C907.1,1298.5 906,1290.9 905,1283.4C904.3,1277.9 903.2,1272.5 902.8,1267C902.6,1263.7 902.8,1260.3 903.1,1256.9C903.5,1253.2 904.6,1249.7 904.8,1246C905.3,1239.3 905.4,1232.5 905.3,1225.8C905.2,1216.1 904.7,1206.5 904.5,1196.9C904.1,1186.4 903.7,1176 903.4,1165.5C903.1,1155.1 902.9,1144.6 902.6,1134.2C902.3,1124 902.2,1113.9 901.6,1103.8C901.2,1094.9 900.7,1086.1 899.7,1077.2C898.8,1069.1 897.3,1061.1 896,1053C894.4,1043.6 892.6,1034.3 891.1,1024.9C889.5,1014.6 887.9,1004.2 886.6,993.8C885.3,983.3 884.3,972.9 883.5,962.4C882.7,952 882.5,941.6 881.9,931.1C881.3,922.5 881.4,913.9 880.1,905.4C879.5,901.8 879.8,895.2 876.2,895.2C872.5,895.2 872.7,901.8 872.1,905.4C870.6,913.9 870.5,922.5 870,931.1C869.4,941.6 869.3,952 868.7,962.4C868.1,972.4 867.5,982.3 866.4,992.2C865.4,1001.4 863.9,1010.5 862.3,1019.6C860.7,1028.2 858.7,1036.8 857,1045.4C855.4,1052.9 853.6,1060.4 852.3,1068C851,1075.5 850,1083 849.4,1090.6C848.6,1100 848.4,1109.4 848,1118.8C847.6,1129.1 847.4,1139.5 847,1149.9C846.6,1160.3 846.2,1170.7 845.9,1181.1C845.5,1191.6 845.1,1202 844.9,1212.4C844.7,1221.3 844.4,1230.1 844.5,1239C844.6,1244.2 845,1249.4 845.5,1254.6C845.8,1257.7 846.9,1260.8 847,1264C847.3,1269.2 847,1274.4 846.6,1279.6C846,1287.9 845,1296.2 844.3,1304.5C843.6,1313.1 843,1321.7 842.4,1330.2C842,1337 842.1,1343.9 841.3,1350.7C840.7,1355.3 840.3,1360.1 838.4,1364.4C837,1367.6 834.5,1370.5 831.5,1372.5C828.3,1374.6 824.4,1375.8 820.5,1376.2C816.5,1376.7 812.3,1376.4 808.4,1375.1C804.7,1373.9 801.1,1371.8 798.6,1368.9C795.9,1365.6 794.5,1361.3 793.2,1357.2C791.7,1352.3 791.2,1347.1 790.2,1342C789.2,1337.1 788,1332.2 787,1327.3C786.1,1322.1 785.3,1316.9 784.5,1311.7C783.7,1306.2 783,1300.7 782.3,1295.2C781.6,1290.5 780.5,1285.9 780.3,1281.1C780.1,1277 780.4,1272.8 781,1268.6C781.7,1264.4 783.3,1260.4 784.1,1256.1C785.1,1250.5 785.9,1244.7 786.2,1239C786.6,1230.2 786.3,1221.3 786.2,1212.4C786.1,1202 785.8,1191.6 785.5,1181.1C785.3,1170.7 785,1160.3 784.7,1149.9C784.4,1139.5 784.1,1129.1 783.7,1118.8C783.3,1108.3 782.9,1097.9 782.3,1087.4C781.8,1077 781.1,1066.6 780.3,1056.1C779.5,1045.7 778.4,1035.3 777.3,1024.9C776.3,1014.5 775,1004.2 773.9,993.8C772.8,983.3 771.7,972.9 770.7,962.4C769.8,952 769,941.6 768.3,931.1C767.5,920 766.8,908.9 766.2,897.8C765.6,885.4 764.9,873 764.6,860.6C764.2,849 763.9,837.3 764.1,825.6C764.3,816.4 764.7,807.3 765.6,798.1C766.4,790.6 767.7,783 769.4,775.6C770.9,768.6 773.1,761.8 775.3,755C777.3,748.7 780,742.6 781.9,736.2C783.8,729.7 785.8,723 786.6,716.2C787.8,706.7 788.1,697.1 788.1,687.5C788.2,675 788.4,662.4 787,650C786,640.5 781,622 781,622C781,622 774.1,617.2 771,618.8C766.8,620.9 766.2,626.9 763.7,630.9C760.7,635.6 757.6,640.2 754.4,644.7C750.9,649.5 747.3,654.2 743.4,658.6C739.8,662.5 736.1,666.4 732,669.7C728.6,672.5 725,675 721,676.7C718,678.1 714.6,679 711.3,678.9C708.5,678.9 705.7,677.9 703.4,676.4C701,674.8 699,672.4 697.6,669.9C696,666.9 695,663.6 694.4,660.2C693.7,655.9 693.6,651.5 693.8,647.2C694.1,642 694.9,636.8 696,631.8C697.2,626.2 698.9,620.8 700.7,615.5C702.6,610 704.9,604.6 707.2,599.2C709.6,593.8 712.3,588.4 714.8,583C717.2,577.6 719.7,572.3 721.9,566.8C724,561.4 725.8,555.9 727.6,550.5C729.3,545.1 730.7,539.6 732.6,534.2C734.6,528.7 736.7,523.2 739.3,518C742.2,512.4 745.4,506.9 749.1,501.8C753,496.1 757.4,490.7 762.1,485.7C766.9,480.5 772,475.7 777.5,471.2C782.6,467.2 788.1,463.6 793.8,460.3C799,457.2 805.4,456.2 810,452.2C811.2,451.2 808,448 808,448C808,448 806.8,446 806.2,445C804.4,441.3 802.1,437.7 800.8,433.8C799.3,429.3 798.2,424.7 797.9,420C797.5,414.6 797.8,409.1 798.6,403.8C799.6,397.4 801.4,391.2 803.1,385C805,378.3 807.5,371.7 809.4,365C811.2,358.4 812.9,351.7 814.4,345C815.8,338.4 816.5,331.6 818.1,325C819.8,318.4 821.2,311.6 824.4,305.6C827.6,299.4 831.7,293.5 836.9,288.9C842.3,284 848.8,280.3 855.6,277.8C862.4,275.2 869.7,274 876.9,273.9Z"/>
<path d="M1332.5,345.6C1339,345.2 1345.7,346.1 1351.9,348.1C1357.9,350.1 1363.5,353.2 1368.4,357.2C1373.1,361 1376.9,365.8 1380,370.9C1383.2,376.2 1385.1,382.2 1386.9,388.1C1388.7,394.4 1389.7,401 1390.8,407.5C1391.8,413.9 1392.5,420.4 1393.4,426.9C1394.2,432.9 1395.2,438.9 1396.1,445C1396.8,450.6 1397.8,456.2 1398.1,461.9C1398.4,466.9 1398.6,471.9 1398.1,476.9C1397.7,481.1 1396.8,485.3 1395.6,489.4C1394.5,493 1392,496.2 1391.2,500C1390.7,502.8 1392,508.5 1392,508.5C1392,508.5 1397.2,512.1 1400,513.8C1405.8,517.1 1411.9,519.9 1417.5,523.4C1423.4,527.2 1429.1,531.1 1434.4,535.6C1439.5,540 1444.5,544.7 1448.8,550C1452.6,554.8 1456,560.1 1458.8,565.6C1461.4,571 1463,576.8 1464.7,582.5C1466.4,588.3 1467.3,594.2 1468.8,600C1470.2,606.1 1471.6,612.2 1473.4,618.1C1475.5,624.7 1478,631.1 1480.6,637.5C1483.3,644.1 1486.6,650.4 1489.4,656.9C1491.9,662.8 1494.5,668.8 1496.6,674.9C1498.3,679.9 1499.8,685 1500.8,690.2C1501.5,694.2 1502,698.2 1501.6,702.1C1501.3,705.6 1500.5,709.1 1498.8,712.1C1497,715.1 1494.6,718 1491.6,719.7C1488.4,721.4 1484.5,722.2 1480.9,721.6C1476.6,720.8 1472.6,718.5 1469.1,715.9C1465,713 1461.7,709.1 1458.4,705.3C1455.3,701.7 1453,697.4 1450,693.8C1447.2,690.3 1441,684 1441,684C1441,684 1434.6,707.8 1433,720C1431.4,732.2 1431.7,744.6 1431.6,756.9C1431.4,766 1431.4,775.2 1432.1,784.4C1432.6,790.7 1433.9,796.9 1435.1,803.1C1436.1,809 1437.7,814.8 1438.6,820.6C1439.7,827.1 1440.5,833.5 1441.2,840C1441.8,846.6 1442.1,853.3 1442.3,860C1442.5,867.9 1442.4,875.8 1442.2,883.8C1442,894.2 1441.7,904.6 1441.3,915C1440.8,926.7 1440.2,938.3 1439.5,950C1438.8,961.7 1437.9,973.3 1437.1,985C1436.3,996.7 1435.4,1008.3 1434.5,1020C1433.7,1030.9 1432.8,1041.8 1432,1052.8C1431.2,1062.2 1430.4,1071.7 1429.7,1081.1C1428.9,1089.9 1428.2,1098.7 1427.6,1107.4C1427,1116.2 1426.3,1125 1425.9,1133.8C1425.4,1143.6 1425,1153.5 1424.6,1163.4C1424.3,1174.4 1424,1185.3 1423.8,1196.2C1423.5,1205.8 1423.2,1215.4 1423.1,1225C1422.9,1232.3 1422.7,1239.6 1422.9,1246.9C1423.1,1251.7 1423.6,1256.5 1424.4,1261.2C1424.9,1264.4 1426.3,1267.4 1426.9,1270.6C1427.5,1273.9 1428.1,1277.3 1428.1,1280.6C1428.2,1284.8 1427.7,1289 1427.2,1293.1C1426.6,1297.9 1425.8,1302.7 1424.9,1307.5C1423.9,1312.5 1422.8,1317.5 1421.6,1322.5C1420.5,1327.3 1419.1,1332 1418,1336.9C1417.1,1341.2 1416.3,1345.6 1415.6,1350C1415,1353.9 1415.2,1358 1414.1,1361.9C1413.1,1365.2 1411.8,1368.7 1409.4,1371.1C1406.8,1373.7 1403.2,1375.2 1399.7,1376C1395.8,1376.9 1391.7,1377 1387.8,1376.1C1384.1,1375.3 1380.4,1373.7 1377.5,1371.2C1374.6,1368.8 1372.5,1365.4 1371.1,1361.9C1369.4,1357.7 1369,1353.2 1368.4,1348.8C1367.6,1343.2 1367.6,1337.5 1367.1,1331.9C1366.6,1325.4 1366.1,1318.9 1365.4,1312.5C1364.7,1306.2 1363.8,1300 1362.9,1293.8C1362.2,1288.7 1361.1,1283.8 1360.6,1278.8C1360.3,1275.2 1360.1,1271.7 1360.4,1268.1C1360.6,1265.2 1361.7,1262.3 1362.1,1259.4C1362.6,1255 1363.1,1250.6 1363.2,1246.2C1363.4,1239.2 1363.1,1232.1 1362.9,1225C1362.7,1216.7 1362.3,1208.3 1362,1200C1361.7,1192.5 1361.3,1185 1361,1177.5C1360.7,1169.3 1360.3,1161 1360,1152.8C1359.6,1142.5 1359.4,1132.2 1358.8,1121.9C1358.4,1113.2 1358,1104.4 1357.2,1095.7C1356.6,1088.9 1355.5,1082.2 1354.5,1075.6C1353.3,1068.2 1351.7,1061 1350.5,1053.7C1349.1,1045.4 1347.7,1037.1 1346.5,1028.8C1345.3,1020.7 1344.4,1012.7 1343.5,1004.7C1342.7,998.1 1342,991.6 1341.5,985C1340.9,977.5 1340.6,970 1340.3,962.5C1340,954.3 1340.2,946.2 1339.8,938C1339.5,933.7 1339.6,929.2 1338.2,925.1C1337.7,923.9 1336,923 1334.6,923C1333.2,923 1331.5,923.9 1331.1,925.1C1329.6,929.2 1329.7,933.7 1329.5,938C1329,946.2 1329.1,954.3 1328.8,962.5C1328.6,970 1328.2,977.5 1327.7,985C1327.2,991.6 1326.5,998.1 1325.8,1004.7C1324.9,1012.7 1324.1,1020.7 1323,1028.8C1321.8,1037.1 1320.5,1045.4 1319,1053.7C1317.7,1061 1316,1068.3 1314.6,1075.6C1313.3,1082.3 1311.8,1088.9 1311,1095.7C1309.9,1104.4 1309.4,1113.2 1309,1121.9C1308.5,1132.2 1308.5,1142.5 1308.3,1152.8C1308.1,1161 1308,1169.3 1307.8,1177.5C1307.6,1185 1307.3,1192.5 1307.1,1200C1306.8,1208.3 1306.4,1216.7 1306.1,1225C1305.9,1232.3 1305.4,1239.6 1305.3,1246.9C1305.2,1251.7 1305.2,1256.5 1305.6,1261.2C1305.9,1264.2 1306.9,1267.1 1307.4,1270C1307.9,1273.1 1308.6,1276.2 1308.6,1279.4C1308.7,1284.2 1308.1,1289 1307.6,1293.8C1307,1300 1305.8,1306.2 1305.1,1312.5C1304.4,1318.9 1303.7,1325.4 1303.2,1331.9C1302.9,1337.7 1303.1,1343.6 1302.6,1349.4C1302.3,1354.1 1302.3,1359 1300.8,1363.4C1299.7,1366.9 1297.7,1370.3 1294.9,1372.5C1292,1374.8 1288.3,1375.8 1284.7,1376.2C1280.8,1376.7 1276.8,1376.3 1273.1,1375C1269.5,1373.7 1266.1,1371.4 1263.6,1368.4C1260.9,1365.1 1259.4,1360.9 1258,1356.9C1256.5,1352.4 1255.8,1347.7 1254.8,1343.1C1253.8,1338.6 1252.7,1334 1251.9,1329.4C1250.9,1324.4 1250.2,1319.4 1249.4,1314.4C1248.7,1309.2 1248,1304 1247.2,1298.8C1246.6,1294.4 1245.6,1290 1245.4,1285.6C1245.2,1282.1 1245.3,1278.5 1245.8,1275C1246.3,1271.6 1247.7,1268.4 1248.3,1265C1249.2,1260 1249.9,1255 1250.2,1250C1250.7,1242.1 1250.7,1234.2 1250.7,1226.2C1250.7,1217.5 1250.6,1208.7 1250.4,1200C1250.3,1192.5 1250.1,1185 1249.9,1177.5C1249.6,1170.7 1249.3,1164 1249,1157.2C1248.7,1149.4 1248.3,1141.6 1248,1133.8C1247.6,1125 1247.3,1116.2 1246.8,1107.4C1246.2,1098.7 1245.6,1089.9 1244.8,1081.1C1244,1071.7 1242.9,1062.2 1241.9,1052.8C1240.8,1041.8 1239.7,1030.9 1238.7,1020C1237.7,1008.3 1236.8,996.7 1235.9,985C1235,973.3 1234.2,961.7 1233.5,950C1232.8,938.3 1232.2,926.7 1231.7,915C1231.3,904.6 1231,894.2 1231,883.8C1231,875.8 1231.1,867.9 1231.7,860C1232.2,853.3 1233.2,846.6 1234.4,840C1235.6,833.3 1237.3,826.6 1239.1,820C1240.7,813.9 1243,808 1244.7,801.9C1246.4,795.9 1248.4,789.9 1249.2,783.8C1250.5,774.9 1250.9,765.9 1251,756.9C1251.1,744.6 1251.4,732.2 1250,720C1248.7,708.5 1243,686 1243,686C1243,686 1235.2,680.7 1231.2,682C1227.2,683.4 1226.5,689.1 1223.9,692.6C1220.9,696.6 1217.9,700.6 1214.6,704.3C1211.2,708.1 1207.6,711.9 1203.6,715.1C1200.3,717.8 1196.7,720.3 1192.7,721.8C1189.6,722.9 1186.1,723.4 1182.9,722.8C1180,722.3 1177.2,720.6 1175,718.6C1172.6,716.3 1170.7,713.4 1169.3,710.5C1167.7,707 1166.6,703.3 1166,699.5C1165.3,695.2 1165.1,690.8 1165.4,686.5C1165.7,681.7 1166.5,676.9 1167.7,672.2C1168.8,667.3 1170.5,662.4 1172.3,657.6C1174.3,652.6 1176.5,647.8 1178.8,643C1181.2,638.1 1183.9,633.3 1186.4,628.4C1188.7,623.7 1191.2,619 1193.3,614.2C1195.2,609.8 1196.8,605.3 1198.3,600.8C1199.9,596.3 1200.9,591.7 1202.4,587.3C1204,582.5 1205.6,577.7 1207.7,573.1C1210,568 1212.7,563.1 1215.8,558.5C1219.3,553.3 1223.1,548.5 1227.2,543.9C1231.6,539 1236.3,534.3 1241.4,530.1C1246.4,526 1251.7,522.3 1257.2,519.1C1262.4,516.1 1268.8,515.2 1273.5,511.4C1274.6,510.5 1271,508 1271,508C1271,508 1270.2,507.8 1270,507.5C1268.2,504.5 1266.4,501.4 1265.2,498.1C1263.7,493.9 1262.4,489.5 1261.9,485C1261.4,480 1261.5,475 1262.1,470C1262.7,464.7 1264.2,459.5 1265.6,454.4C1267.2,448.7 1269.3,443.2 1270.9,437.5C1272.7,431.5 1274.3,425.5 1275.6,419.4C1277.1,413 1277.8,406.4 1279.4,400C1281,393.4 1282.4,386.7 1285.3,380.6C1288.2,374.4 1291.9,368.4 1296.6,363.4C1301.3,358.4 1306.9,354 1313.1,350.9C1319.1,348 1325.8,346.1 1332.5,345.6Z"/>
</g>
<use href="#bp" transform="translate(0,0)"/>
<g transform="translate(426,578) scale(0.1925,0.25)"><text x="0" y="0" font-family="'Liberation Sans', Arial, sans-serif" font-weight="700" font-size="33" letter-spacing="-0.5"><tspan fill="#f39a2b">flight</tspan><tspan fill="#e4e4e4">mode</tspan><tspan fill="#d5d5d5" font-size="15" dy="-13" font-weight="400">™</tspan></text></g>
<use href="#bp" transform="translate(497.2,52)"/>
<g transform="translate(923.2,630) scale(0.1925,0.25)"><text x="0" y="0" font-family="'Liberation Sans', Arial, sans-serif" font-weight="700" font-size="33" letter-spacing="-0.5"><tspan fill="#f39a2b">flight</tspan><tspan fill="#e4e4e4">mode</tspan><tspan fill="#d5d5d5" font-size="15" dy="-13" font-weight="400">™</tspan></text></g>
<use href="#bp" transform="translate(959.3,117)"/>
<g transform="translate(1385.3,695) scale(0.1925,0.25)"><text x="0" y="0" font-family="'Liberation Sans', Arial, sans-serif" font-weight="700" font-size="33" letter-spacing="-0.5"><tspan fill="#f39a2b">flight</tspan><tspan fill="#e4e4e4">mode</tspan><tspan fill="#d5d5d5" font-size="15" dy="-13" font-weight="400">™</tspan></text></g>
<g id="ruler" stroke="#111" stroke-linecap="round" fill="none">
<line x1="71.9" x2="71.9" y1="206.1" y2="1371.5" stroke-width="3.3" stroke-linecap="butt"/>
<path d="M67.6,1371.50H86.9M67.6,1337.22H86.9M67.6,1302.95H86.9M67.6,1268.67H86.9M67.6,1234.39H86.9M67.6,1200.12H86.9M67.6,1165.84H86.9M67.6,1131.56H86.9M67.6,1097.29H86.9M67.6,1063.01H86.9M67.6,1028.74H86.9M67.6,994.46H86.9M67.6,960.18H86.9M67.6,925.91H86.9M67.6,891.63H86.9M67.6,857.35H86.9M67.6,823.08H86.9M67.6,788.80H86.9M67.6,754.52H86.9M67.6,720.25H86.9M67.6,685.97H86.9M67.6,651.69H86.9M67.6,617.42H86.9M67.6,583.14H86.9M67.6,548.86H86.9M67.6,514.59H86.9M67.6,480.31H86.9M67.6,446.04H86.9M67.6,411.76H86.9M67.6,377.48H86.9M67.6,343.21H86.9M67.6,308.93H86.9M67.6,274.65H86.9M67.6,240.38H86.9M67.6,206.10H86.9" stroke-width="2.5"/>
<path d="M72,1364.64H77.2M72,1357.79H77.2M72,1350.93H77.2M72,1344.08H77.2M72,1330.37H77.2M72,1323.51H77.2M72,1316.66H77.2M72,1309.80H77.2M72,1296.09H77.2M72,1289.24H77.2M72,1282.38H77.2M72,1275.53H77.2M72,1261.82H77.2M72,1254.96H77.2M72,1248.10H77.2M72,1241.25H77.2M72,1227.54H77.2M72,1220.68H77.2M72,1213.83H77.2M72,1206.97H77.2M72,1193.26H77.2M72,1186.41H77.2M72,1179.55H77.2M72,1172.70H77.2M72,1158.99H77.2M72,1152.13H77.2M72,1145.28H77.2M72,1138.42H77.2M72,1124.71H77.2M72,1117.85H77.2M72,1111.00H77.2M72,1104.14H77.2M72,1090.43H77.2M72,1083.58H77.2M72,1076.72H77.2M72,1069.87H77.2M72,1056.16H77.2M72,1049.30H77.2M72,1042.45H77.2M72,1035.59H77.2M72,1021.88H77.2M72,1015.02H77.2M72,1008.17H77.2M72,1001.31H77.2M72,987.60H77.2M72,980.75H77.2M72,973.89H77.2M72,967.04H77.2M72,953.33H77.2M72,946.47H77.2M72,939.62H77.2M72,932.76H77.2M72,919.05H77.2M72,912.20H77.2M72,905.34H77.2M72,898.48H77.2M72,884.77H77.2M72,877.92H77.2M72,871.06H77.2M72,864.21H77.2M72,850.50H77.2M72,843.64H77.2M72,836.79H77.2M72,829.93H77.2M72,816.22H77.2M72,809.37H77.2M72,802.51H77.2M72,795.66H77.2M72,781.94H77.2M72,775.09H77.2M72,768.23H77.2M72,761.38H77.2M72,747.67H77.2M72,740.81H77.2M72,733.96H77.2M72,727.10H77.2M72,713.39H77.2M72,706.54H77.2M72,699.68H77.2M72,692.83H77.2M72,679.12H77.2M72,672.26H77.2M72,665.40H77.2M72,658.55H77.2M72,644.84H77.2M72,637.98H77.2M72,631.13H77.2M72,624.27H77.2M72,610.56H77.2M72,603.71H77.2M72,596.85H77.2M72,590.00H77.2M72,576.29H77.2M72,569.43H77.2M72,562.58H77.2M72,555.72H77.2M72,542.01H77.2M72,535.15H77.2M72,528.30H77.2M72,521.44H77.2M72,507.73H77.2M72,500.88H77.2M72,494.02H77.2M72,487.17H77.2M72,473.46H77.2M72,466.60H77.2M72,459.75H77.2M72,452.89H77.2M72,439.18H77.2M72,432.32H77.2M72,425.47H77.2M72,418.61H77.2M72,404.90H77.2M72,398.05H77.2M72,391.19H77.2M72,384.34H77.2M72,370.63H77.2M72,363.77H77.2M72,356.92H77.2M72,350.06H77.2M72,336.35H77.2M72,329.50H77.2M72,322.64H77.2M72,315.78H77.2M72,302.07H77.2M72,295.22H77.2M72,288.36H77.2M72,281.51H77.2M72,267.80H77.2M72,260.94H77.2M72,254.09H77.2M72,247.23H77.2M72,233.52H77.2M72,226.67H77.2M72,219.81H77.2M72,212.96H77.2" stroke-width="2.1"/>
</g>
<g font-family="'Liberation Sans', Arial, sans-serif" font-weight="700" font-size="22.3" fill="#111" stroke="#111" stroke-width="0.35" letter-spacing="1">
<text x="100.6" y="215.3">170</text>
<text x="100.6" y="283.9">160</text>
<text x="100.6" y="352.4">150</text>
<text x="100.6" y="421">140</text>
<text x="100.6" y="489.5">130</text>
<text x="100.6" y="558.1">120</text>
<text x="100.6" y="626.6">110</text>
<text x="100.6" y="695.2">100</text>
<text x="100.6" y="763.7">90</text>
<text x="100.6" y="832.3">80</text>
<text x="100.6" y="900.8">70</text>
<text x="100.6" y="969.4">60</text>
<text x="100.6" y="1037.9">50</text>
<text x="100.6" y="1106.5">40</text>
<text x="100.6" y="1175">30</text>
<text x="100.6" y="1243.6">20</text>
<text x="100.6" y="1312.1">10</text>
<text x="100.6" y="1374.2">0</text>
</g>
<text y="229.2" font-family="'Liberation Sans', Arial, sans-serif" fill="#111"><tspan x="101.6" font-size="11" font-weight="400">(</tspan><tspan x="109.3" font-size="15.2" font-weight="700" letter-spacing="0.9" stroke="#111" stroke-width="0.3">cm</tspan><tspan x="138" font-size="11" font-weight="400">)</tspan></text>
<g id="pills" fill="#ffa301">
<rect x="232" y="1393" width="297" height="71.6" rx="35.8"/>
<rect x="232" y="1473" width="297" height="72" rx="36"/>
<rect x="734" y="1393" width="297" height="71.6" rx="35.8"/>
<rect x="734" y="1473" width="297" height="72" rx="36"/>
<rect x="1188" y="1393" width="297" height="71.6" rx="35.8"/>
<rect x="1188" y="1473" width="297" height="72" rx="36"/>
</g>
</svg>
<h1 class="ttl" id="ttl"><span style="left:175.72px;top:59.39px;transform:scaleX(0.8278)">E</span><span style="left:231.11px;top:59.39px;transform:scaleX(1.0491)">ngineered</span> <span style="left:729.68px;top:59.39px;transform:scaleX(0.8755)">F</span><span style="left:779.90px;top:59.39px;transform:scaleX(1.0303)">or</span> <span style="left:905.86px;top:59.39px;transform:scaleX(0.8212)">E</span><span style="left:961.05px;top:59.39px;transform:scaleX(1.0549)">very</span> <span style="left:1193.62px;top:59.39px;transform:scaleX(0.9097)">B</span><span style="left:1257.24px;top:59.39px;transform:scaleX(1.0346)">ody</span></h1>
<div class="pt"><span style="left:259.05px;top:1413.86px;transform:scaleX(1.1275)">5.78ft/</span><span style="left:389.55px;top:1413.86px;transform:scaleX(1.0325)">170cm</span></div>
<div class="pt"><span style="left:277.10px;top:1493.86px;transform:scaleX(1.0757)">80kg/</span><span style="left:389.54px;top:1493.86px;transform:scaleX(1.0401)">176lb</span></div>
<div class="pt"><span style="left:760.63px;top:1413.86px;transform:scaleX(1.1413)">5.25ft/</span><span style="left:891.96px;top:1413.86px;transform:scaleX(1.0287)">160cm</span></div>
<div class="pt"><span style="left:780.10px;top:1493.86px;transform:scaleX(1.0757)">50kg/</span><span style="left:891.89px;top:1493.86px;transform:scaleX(1.0603)">110lb</span></div>
<div class="pt"><span style="left:1214.64px;top:1413.86px;transform:scaleX(1.1510)">4.92ft/</span><span style="left:1346.57px;top:1413.86px;transform:scaleX(1.0231)">150cm</span></div>
<div class="pt"><span style="left:1243.67px;top:1493.86px;transform:scaleX(1.0915)">45kg/</span><span style="left:1350.98px;top:1493.86px;transform:scaleX(1.1003)">99lb</span></div>
</body>
</html>
